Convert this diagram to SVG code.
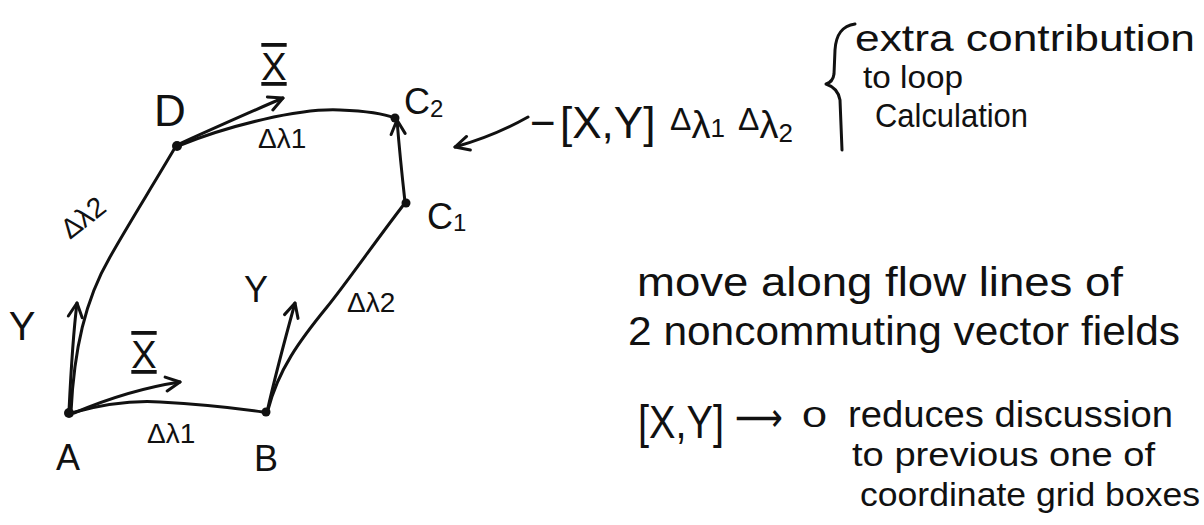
<svg xmlns="http://www.w3.org/2000/svg" width="1204" height="525" viewBox="0 0 1204 525">
<style>
.ln{fill:none;stroke:#111;stroke-width:3;stroke-linecap:round;stroke-linejoin:round}
.ar{marker-end:url(#head)}
.dot{fill:#111}
.t{font-family:"Liberation Sans",Arial,sans-serif;fill:#111}
.lab{font-size:36px}
.sm{font-size:28px}
.note{font-size:36px}
.bar{text-decoration:overline underline}
</style>
<defs>
<marker id="head" viewBox="0 0 18 18" markerWidth="18" markerHeight="18" refX="16" refY="9" orient="auto" markerUnits="userSpaceOnUse">
<path d="M2,2 L16,9 L2,16" fill="none" stroke="#111" stroke-width="3" stroke-linecap="round" stroke-linejoin="round"/>
</marker>
</defs>
<rect width="1204" height="525" fill="#fff"/>

<g id="connectors">
<path class="ln" d="M71,413 C100,405 128,400 160,402 C200,404 235,408 263,412"/>
<path class="ln" d="M71,412 C74,350 85,300 110,257 C125,230 150,190 176,146"/>
<path class="ln" d="M268,410 C278,370 300,340 327,307 C345,285 380,235 405,203"/>
<path class="ln" d="M178,146 C230,125 300,108 340,110 C365,111 385,114 394,118"/>
<path class="ln ar" d="M405,202 C402,175 399,145 397,120"/>
<path class="ln ar" d="M74,413 C100,402 140,388 180,382"/>
<path class="ln ar" d="M69,411 C71,370 73,335 77,303"/>
<path class="ln ar" d="M267,412 C272,390 282,350 295,303"/>
<path class="ln ar" d="M179,144 C210,130 250,112 283,98"/>
<path class="ln ar" d="M528,117 C505,130 480,140 455,147"/>
</g>

<g id="node-A">
<circle class="dot" cx="69" cy="413" r="5"/>
<text class="t lab" x="68" y="470" text-anchor="middle">A</text>
</g>
<g id="node-B">
<circle class="dot" cx="266" cy="412" r="4.5"/>
<text class="t lab" x="266" y="471" text-anchor="middle">B</text>
</g>
<g id="node-C1">
<circle class="dot" cx="406" cy="203" r="4.5"/>
<text class="t lab" x="427" y="229">C<tspan font-size="24" dy="2">1</tspan></text>
</g>
<g id="node-C2">
<circle class="dot" cx="395" cy="118" r="4.5"/>
<text class="t lab" x="404" y="114">C<tspan font-size="24" dy="3">2</tspan></text>
</g>
<g id="node-D">
<circle class="dot" cx="177" cy="146" r="5"/>
<text class="t" font-size="44" x="154" y="126">D</text>
</g>

<g id="edge-labels">
<text class="t" font-size="40" x="22" y="340" text-anchor="middle">Y</text>
<text class="t bar" font-size="38" x="144" y="368" text-anchor="middle">X</text>
<text class="t sm" x="147" y="443">Δλ1</text>
<text class="t" font-size="36" x="256" y="302" text-anchor="middle">Y</text>
<text class="t sm" x="347" y="312">Δλ2</text>
<text class="t sm" x="0" y="0" transform="translate(70,240) rotate(-38)">Δλ2</text>
<text class="t bar" font-size="38" x="274" y="80" text-anchor="middle">X</text>
<text class="t sm" x="258" y="148">Δλ1</text>
</g>

<g id="commutator">
<text class="t" font-size="44" x="530" y="138">−<tspan x="560">[X,Y]</tspan><tspan x="670" font-size="32" dy="-8">Δ</tspan><tspan font-size="38" dy="8">λ</tspan><tspan font-size="26" dy="-1">1</tspan><tspan x="738" font-size="32" dy="-7">Δ</tspan><tspan font-size="38" dy="8">λ</tspan><tspan font-size="26" dy="4">2</tspan></text>
</g>

<g id="note-extra">
<path class="ln" d="M855,24 C842,26 836,34 835,50 L834,74 Q833,82 826,84 Q838,88 840,100 L842,150"/>
<text class="t note" x="855" y="51" textLength="340" lengthAdjust="spacingAndGlyphs">extra contribution</text>
<text class="t" font-size="32" x="863" y="88" textLength="100" lengthAdjust="spacingAndGlyphs">to loop</text>
<text class="t" font-size="34" x="875" y="127" textLength="153" lengthAdjust="spacingAndGlyphs">Calculation</text>
</g>

<g id="note-flow">
<text class="t" font-size="40" x="637" y="296" textLength="486" lengthAdjust="spacingAndGlyphs">move along flow lines of</text>
<text class="t" font-size="40" x="628" y="345" textLength="552" lengthAdjust="spacingAndGlyphs">2 noncommuting vector fields</text>
</g>

<g id="note-limit">
<text class="t" font-size="46" x="638" y="438" textLength="86" lengthAdjust="spacingAndGlyphs">[X,Y]</text>
<text font-family="DejaVu Sans, sans-serif" fill="#111" font-size="40" x="735" y="431" textLength="48" lengthAdjust="spacingAndGlyphs">⟶</text>
<text class="t" font-size="30" x="802" y="427" textLength="25" lengthAdjust="spacingAndGlyphs">0</text>
<text class="t note" x="848" y="427" textLength="325" lengthAdjust="spacingAndGlyphs">reduces discussion</text>
<text class="t" font-size="34" x="852" y="466" textLength="303" lengthAdjust="spacingAndGlyphs">to previous one of</text>
<text class="t" font-size="34" x="860" y="506" textLength="340" lengthAdjust="spacingAndGlyphs">coordinate grid boxes</text>
</g>
</svg>
